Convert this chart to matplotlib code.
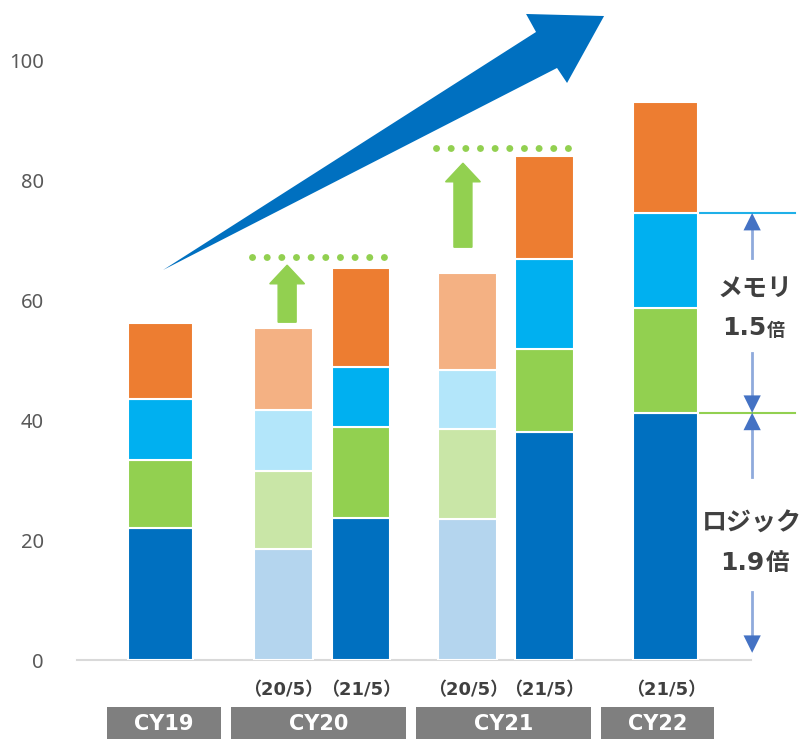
import matplotlib
matplotlib.use("Agg")
import matplotlib.pyplot as plt
import numpy as np
from matplotlib.patches import Polygon, Rectangle, FancyArrow

plt.rcParams["font.family"] = ["Noto Sans CJK JP", "DejaVu Sans"]

# bar layout (x in data units) and data
positions = [0.0, 1.025, 1.67, 2.56, 3.2, 4.21]
widths = [0.54, 0.49, 0.49, 0.49, 0.49, 0.54]
is_old = [False, True, False, True, False, False]
sub_labels = ["", "（20/5）", "（21/5）", "（20/5）", "（21/5）", "（21/5）"]

logic = [22.0, 18.5, 23.7, 23.5, 38.0, 41.2]
mem_a = [11.3, 13.0, 15.1, 15.0, 13.8, 17.5]
mem_b = [10.2, 10.2, 10.0, 9.8, 15.0, 15.8]
other = [12.7, 13.6, 16.5, 16.2, 17.2, 18.5]

groups = ["CY19", "CY20", "CY21", "CY22"]
group_spans = [(-0.446, 0.504), (0.588, 2.046), (2.13, 3.587), (3.671, 4.6125)]

y_ticks = [0, 20, 40, 60, 80, 100]

colors = ["#0070C0", "#92D050", "#00B0F0", "#ED7D31"]
colors_old = ["#B4D5EE", "#C9E6A7", "#B3E6FA", "#F4B183"]

fig = plt.figure(figsize=(8.01, 7.39), dpi=100)
ax = fig.add_axes([77 / 801, 79 / 739, 724 / 801, 660 / 739])
ax.set_xlim(-0.696, 5.337)
ax.set_ylim(0, 110)

series = [logic, mem_a, mem_b, other]
bottom = np.zeros(len(positions))
for k, vals in enumerate(series):
    cols = [colors_old[k] if o else colors[k] for o in is_old]
    ax.bar(positions, vals, widths, bottom=bottom, color=cols,
           edgecolor="white", linewidth=1.5, zorder=3)
    bottom = bottom + np.array(vals)

# axes styling
for s in ["top", "right", "left"]:
    ax.spines[s].set_visible(False)
ax.spines["bottom"].set_color("#D9D9D9")
ax.spines["bottom"].set_linewidth(1.5)
ax.spines["bottom"].set_bounds(-0.696, 4.92)
ax.set_xticks([])
ax.set_yticks(y_ticks)
ax.tick_params(axis="y", length=0, pad=24, labelsize=14.5, labelcolor="#595959")
for t in ax.get_yticklabels():
    t.set_family("Noto Sans")

bold_latin = ["DejaVu Sans", "Noto Sans CJK JP"]

# sub labels and group boxes
for x, lab in zip(positions, sub_labels):
    if lab:
        ax.text(x, -5.0, lab, ha="center", va="center", fontsize=13,
                fontweight="bold", color="#404040", family=bold_latin,
                clip_on=False)
for g, (x0, x1) in zip(groups, group_spans):
    ax.add_patch(Rectangle((x0, -13.4), x1 - x0, 5.55, facecolor="#7F7F7F",
                           edgecolor="none", clip_on=False))
    ax.text((x0 + x1) / 2, -10.7, g, ha="center", va="center", fontsize=15,
            fontweight="bold", color="white", family=bold_latin, clip_on=False)

# big growth arrow
arrow_pts = [(0.021, 65.0), (3.129, 104.67), (3.046, 107.67), (3.696, 107.33),
             (3.3875, 96.17), (3.304, 98.67)]
ax.add_patch(Polygon(arrow_pts, closed=True, facecolor="#0070C0",
                     edgecolor="none", zorder=4, clip_on=False))

# green up arrows + dotted target lines
tops = bottom
for i_old, i_new in [(1, 2), (3, 4)]:
    ax_x = positions[i_old] + 0.03 if i_old == 1 else positions[i_old] - 0.04
    y0 = tops[i_old] + 1.0 if i_old == 1 else tops[i_old] + 4.3
    y1 = tops[i_new] + 0.5 if i_old == 1 else tops[i_new] - 1.2
    ax.add_patch(FancyArrow(ax_x, y0, 0, y1 - y0, width=0.15, head_width=0.29,
                            head_length=3.1, length_includes_head=True,
                            color="#92D050", zorder=4))
    ly = tops[i_new] + 1.9 if i_old == 1 else tops[i_new] + 1.3
    xs_left = positions[i_old] - widths[i_old] / 2 - 0.02
    xs_right = positions[i_new] + widths[i_new] / 2 + 0.02
    ax.plot([xs_left, xs_right], [ly, ly], linestyle=(0, (0.01, 2.1)),
            color="#92D050", linewidth=5, solid_capstyle="round",
            dash_capstyle="round", zorder=4)

# right side annotation
last = len(positions) - 1
x_edge = positions[last] + widths[last] / 2
mem_top = logic[last] + mem_a[last] + mem_b[last]
logic_top = logic[last]
ax.plot([x_edge, 5.287], [mem_top, mem_top], color="#1FB0E8", lw=1.5, zorder=2)
ax.plot([x_edge, 5.287], [logic_top, logic_top], color="#92D050", lw=1.5, zorder=2)

ann_x = 4.93
head_w = 0.072   # half width in x units
head_l = 2.9     # y units
for tip, tail in [(mem_top, mem_top - 7.5), (logic_top, mem_top - 23.3),
                  (logic_top, logic_top - 10.7), (1.2, logic_top - 29.9)]:
    d = 1 if tip > tail else -1
    base = tip - d * head_l
    ax.plot([ann_x, ann_x], [tail, base], color="#8FAADC", lw=2, zorder=2)
    ax.add_patch(Polygon([(ann_x, tip), (ann_x - head_w, base), (ann_x + head_w, base)],
                         closed=True, facecolor="#4472C4", edgecolor="none", zorder=3))

dark = "#404040"
ax.text(ann_x + 0.02, 61.7, "メモリ", ha="center", va="center", fontsize=18,
        fontweight="bold", color=dark)
ax.text(5.045, 55.3, "1.5", ha="right", va="center", fontsize=18,
        fontweight="bold", color=dark, family=bold_latin)
ax.text(5.055, 55.0, "倍", ha="left", va="center", fontsize=13,
        fontweight="bold", color=dark)
ax.text(ann_x, 22.8, "ロジック", ha="center", va="center", fontsize=18,
        fontweight="bold", color=dark)
ax.text(5.03, 16.2, "1.9", ha="right", va="center", fontsize=18,
        fontweight="bold", color=dark, family=bold_latin)
ax.text(5.045, 16.2, "倍", ha="left", va="center", fontsize=17,
        fontweight="bold", color=dark)

fig.savefig("out.png", dpi=100)
